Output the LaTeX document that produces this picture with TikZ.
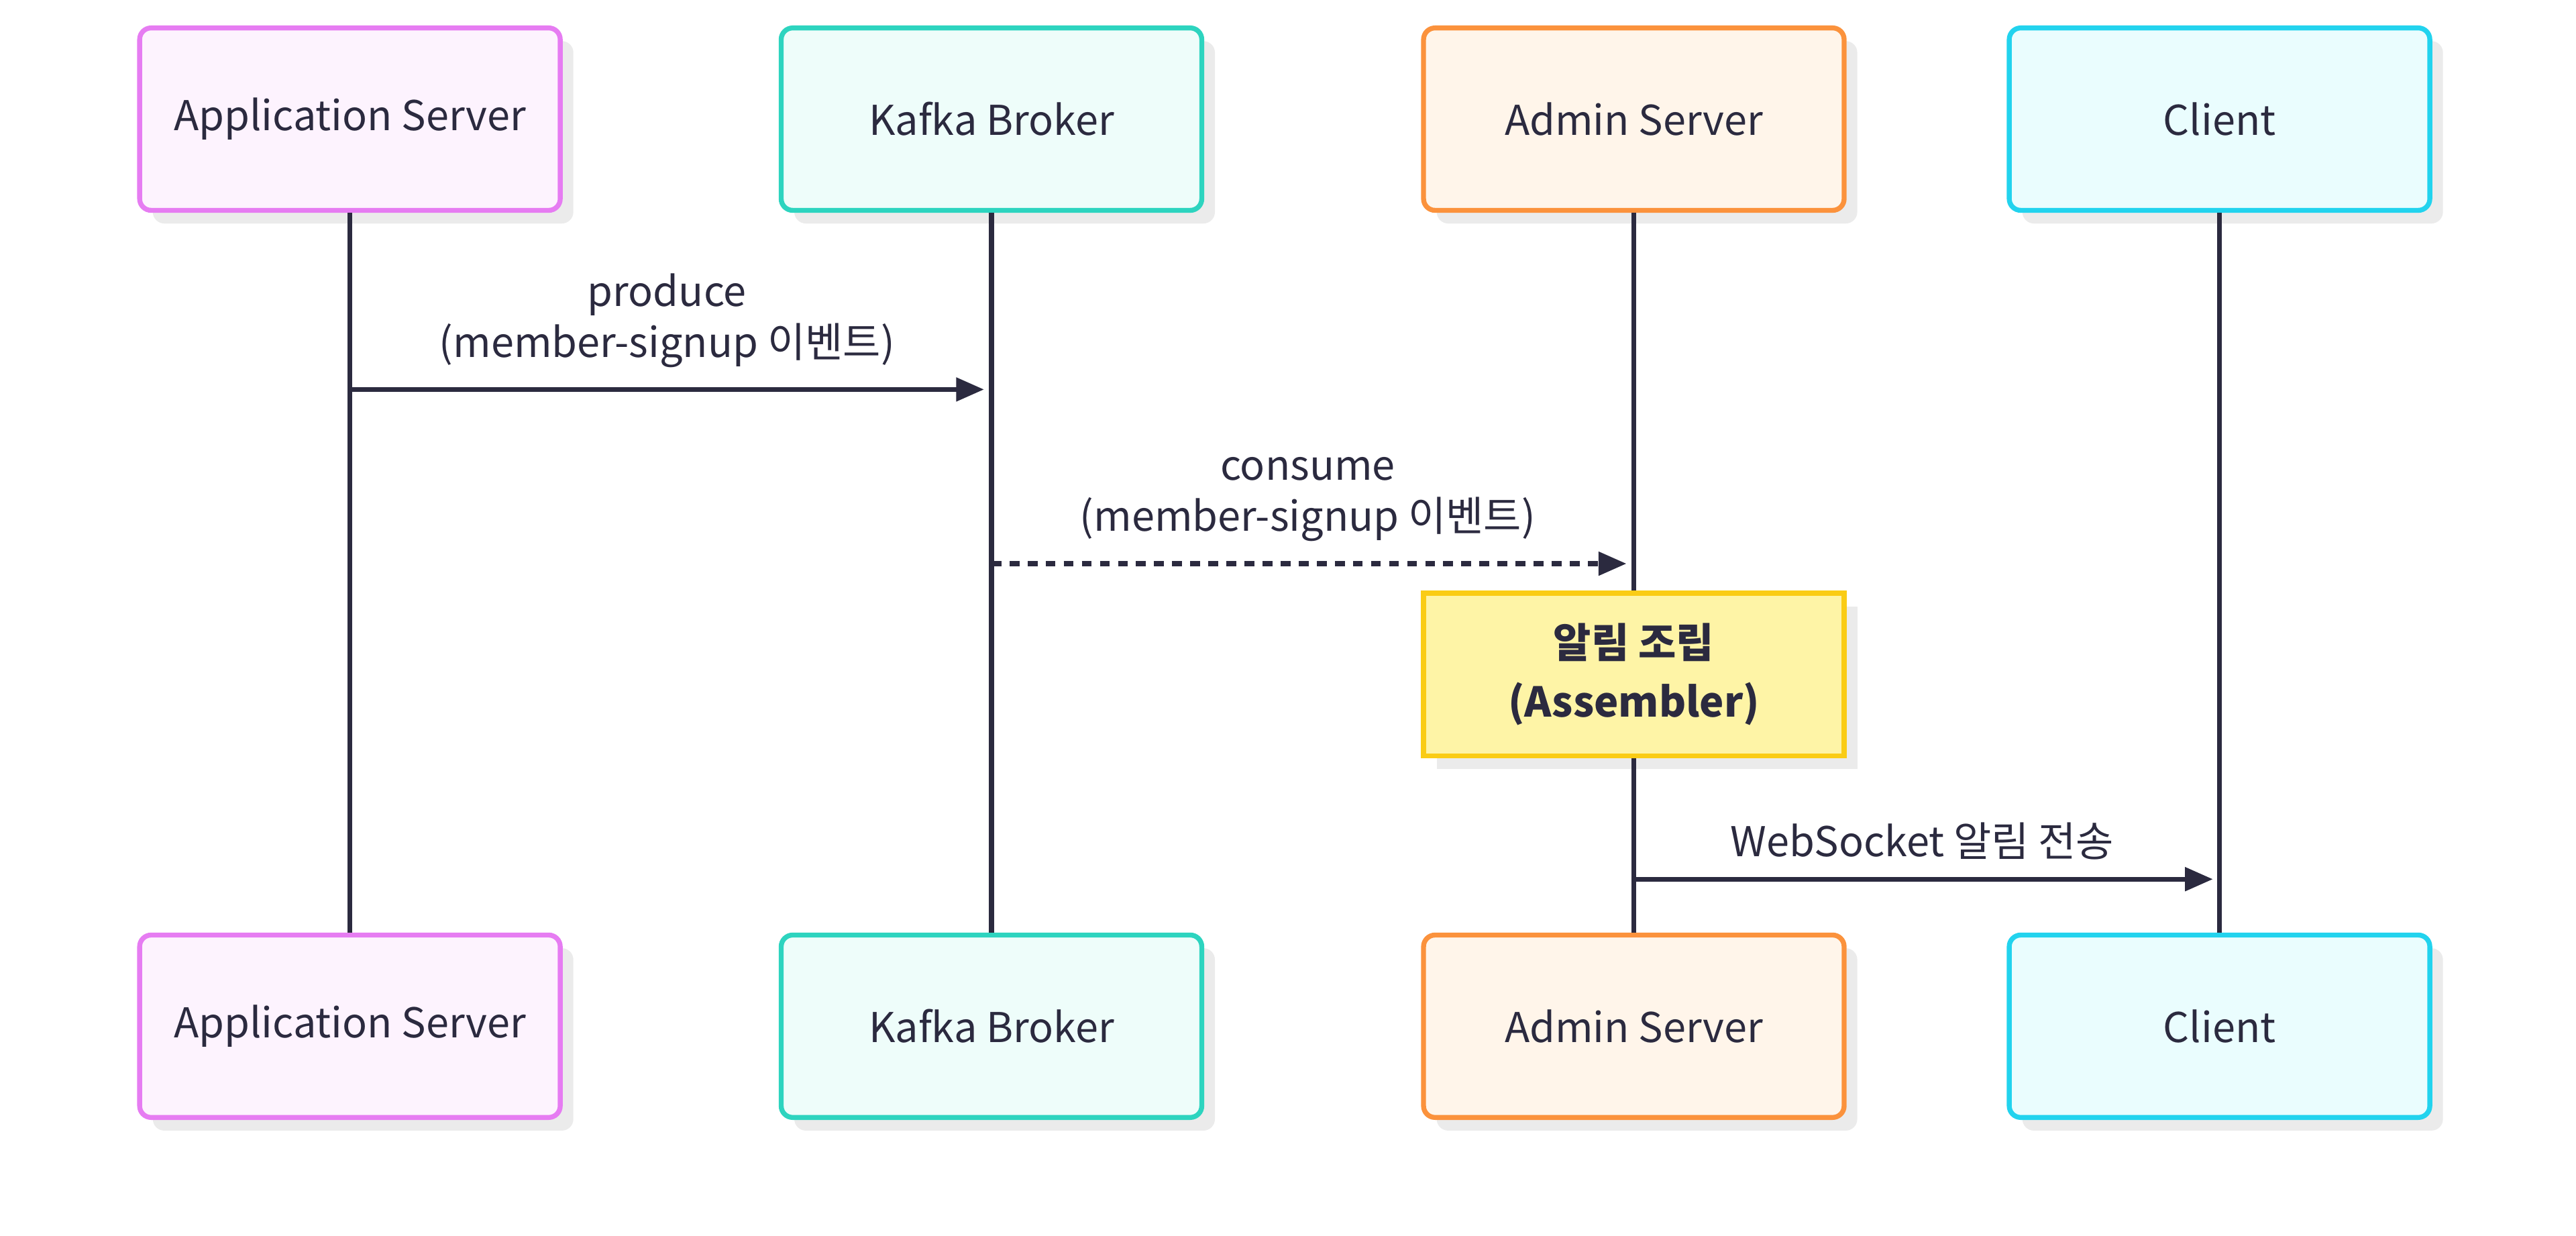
\documentclass[tikz,border=0pt]{standalone}
\usepackage{fontspec}
\setmainfont{Noto Sans CJK KR}
\usetikzlibrary{arrows.meta}
\definecolor{ink}{HTML}{2B2A3F}
\definecolor{shd}{HTML}{EBEBEB}
\definecolor{aB}{HTML}{E67CF2}\definecolor{aF}{HTML}{FDF3FE}
\definecolor{kB}{HTML}{2DD4BF}\definecolor{kF}{HTML}{EEFDFA}
\definecolor{dB}{HTML}{FB923C}\definecolor{dF}{HTML}{FFF5EA}
\definecolor{cB}{HTML}{22D3EE}\definecolor{cF}{HTML}{EAFDFE}
\definecolor{yB}{HTML}{FACC15}\definecolor{yF}{HTML}{FEF4A6}
\begin{document}
\begin{tikzpicture}[x=1pt,y=-1pt,
 actor/.style={draw=#1B,fill=#1F,line width=3pt,rounded corners=7pt,minimum width=256pt,minimum height=111pt,font=\fontsize{25}{30}\selectfont,text=ink,
   preaction={fill=shd,draw=none,transform canvas={shift={(8pt,-8pt)}}}},
 life/.style={draw=ink,line width=3pt},
 msg/.style={draw=ink,line width=3pt,-{Triangle[length=17pt,width=14pt]}},
 lbl/.style={font=\fontsize{25}{31}\selectfont,text=ink,align=center}]
\useasboundingbox (0,0) rectangle (1568,752);
\foreach \n/\c/\x/\t in {a/a/213/Application Server,k/k/603.5/Kafka Broker,d/d/994.5/Admin Server,c/c/1351/Client}{
 \node[actor=\c] (\n1) at (\x,72.5) {\t};
 \node[actor=\c] (\n2) at (\x,624.5) {\t};
}
\foreach \n in {a,k,c}{\draw[life] (\n1.south) -- (\n2.north);}
\node[draw=yB,fill=yF,line width=3pt,minimum width=256pt,minimum height=99pt,align=center,text=ink,font=\bfseries\fontsize{25}{36}\selectfont,
  preaction={fill=shd,draw=none,transform canvas={shift={(8pt,-8pt)}}}] (asm) at (994.5,410.5) {알림 조립\\(Assembler)};
\draw[life] (d1.south) -- (asm.north);
\draw[life] (asm.south) -- (d2.north);
\coordinate (p1) at (213,237); \coordinate (p2) at (599,237);
\draw[msg] (p1) -- (p2);
\node[lbl] at (406,195) {produce\\(member-signup 이벤트)};
\coordinate (q1) at (603.5,343); \coordinate (q2) at (990,343);
\draw[msg,dash pattern=on 6pt off 5pt] (q1) -- (q2);
\node[lbl] at (796,304) {consume\\(member-signup 이벤트)};
\coordinate (r1) at (994.5,535); \coordinate (r2) at (1347,535);
\draw[msg] (r1) -- (r2);
\node[lbl] at (1170,512) {WebSocket 알림 전송};
\end{tikzpicture}
\end{document}
